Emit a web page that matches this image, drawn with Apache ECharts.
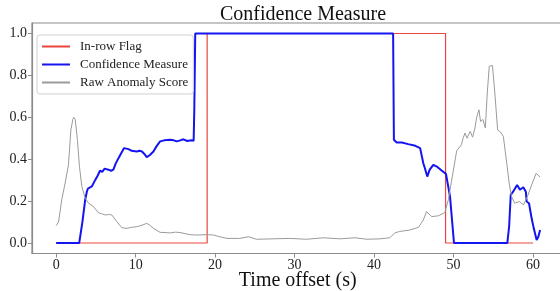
<!DOCTYPE html>
<html>
<head>
<meta charset="utf-8">
<script src="https://cdn.jsdelivr.net/npm/echarts@6/dist/echarts.min.js"></script>
<style>
  html, body { margin: 0; padding: 0; background: #fff; }
  #chart { width: 560px; height: 291px; }
</style>
</head>
<body>
<div id="chart"></div>
<script>
// [time offset (s), value]
const inRowFlag = [[0, 0], [19, 0], [19, 1], [49, 1], [49, 0], [60, 0]];

const confidence = [
    [0, 0], [2.9, 0], [3.3, 0.1], [3.65, 0.206], [3.86, 0.245], [4.0, 0.26], [4.2, 0.255],
    [4.49, 0.27], [4.9, 0.3], [5.2, 0.32], [5.53, 0.346], [5.8, 0.34], [6.1, 0.355],
    [6.58, 0.35], [6.9, 0.345], [7.2, 0.35], [7.5, 0.38], [7.84, 0.405], [8.2, 0.43],
    [8.55, 0.453], [8.8, 0.455], [9.1, 0.448], [9.5, 0.44], [10.15, 0.437], [10.5, 0.44],
    [10.8, 0.437], [11.1, 0.425], [11.4, 0.41], [11.8, 0.42], [12.24, 0.437], [12.6, 0.46],
    [13.08, 0.485], [13.6, 0.49], [14.34, 0.493], [14.8, 0.49], [15.18, 0.485], [15.6, 0.49],
    [16.0, 0.495], [16.5, 0.487], [17.0, 0.49], [17.3, 0.488], [17.38, 0.63], [17.45, 0.63],
    [17.5, 1.0], [42.4, 1.0], [42.5, 0.493], [42.85, 0.48], [43.5, 0.48], [44.3, 0.472],
    [45.2, 0.464], [45.8, 0.453], [46.2, 0.381], [46.4, 0.357], [46.7, 0.317], [47.0, 0.35],
    [47.46, 0.373], [47.9, 0.365], [48.5, 0.346], [49.05, 0.33], [49.56, 0.222], [50.06, 0],
    [56.77, 0], [57.0, 0.08], [57.2, 0.23], [57.5, 0.245], [58.0, 0.277], [58.36, 0.254],
    [58.78, 0.266], [59.1, 0.245], [59.2, 0.198], [59.5, 0.19], [59.83, 0.118], [60.1, 0.07],
    [60.46, 0.014], [60.67, 0.03], [60.9, 0.062]
];

const rawScore = [
    [0, 0.083], [0.3, 0.1], [0.7, 0.206], [1.13, 0.286], [1.55, 0.373], [1.85, 0.54],
    [2.1, 0.59], [2.2, 0.6], [2.4, 0.59], [2.68, 0.49], [2.93, 0.365], [3.23, 0.27],
    [3.65, 0.214], [4.07, 0.19], [4.7, 0.174], [5.3, 0.145], [5.7, 0.14], [6.16, 0.134],
    [6.6, 0.136], [7.0, 0.134], [7.63, 0.102], [8.26, 0.073], [8.9, 0.07], [9.5, 0.075],
    [10.15, 0.078], [10.8, 0.085], [11.4, 0.094], [11.8, 0.085], [12.24, 0.07], [13.08, 0.051],
    [13.7, 0.05], [14.34, 0.048], [15.0, 0.052], [15.6, 0.05], [16.2, 0.045], [16.85, 0.04],
    [17.7, 0.038], [18.95, 0.04], [19.8, 0.038], [20.6, 0.03], [21.5, 0.022], [23.1, 0.022],
    [24.2, 0.03], [25.2, 0.018], [27.3, 0.02], [29.4, 0.022], [31.5, 0.018], [33.6, 0.025],
    [35.7, 0.02], [37.6, 0.025], [39.1, 0.018], [40.75, 0.02], [42.0, 0.025], [42.6, 0.048],
    [43.2, 0.055], [44.5, 0.062], [45.6, 0.075], [46.2, 0.11], [46.6, 0.15], [47.26, 0.126],
    [48.1, 0.13], [48.9, 0.145], [49.35, 0.206], [49.77, 0.3], [50.4, 0.44], [51.0, 0.469],
    [51.2, 0.5], [51.45, 0.525], [51.7, 0.5], [52.1, 0.533], [52.4, 0.505], [52.7, 0.549],
    [52.9, 0.597], [53.2, 0.636], [53.4, 0.58], [53.7, 0.59], [54.0, 0.549], [54.25, 0.716],
    [54.5, 0.844], [54.9, 0.847], [55.2, 0.716], [55.55, 0.54], [55.9, 0.53], [56.27, 0.509],
    [56.7, 0.381], [57.0, 0.286], [57.3, 0.222], [57.7, 0.19], [58.3, 0.198], [58.8, 0.182],
    [59.3, 0.222], [59.83, 0.277], [60.4, 0.333], [60.5, 0.34], [60.9, 0.314]
];

const xTicks = [0, 10, 20, 30, 40, 50, 60];
const yTicks = [0, 0.2, 0.4, 0.6, 0.8, 1.0];

const serif = '"Liberation Serif", "DejaVu Serif", serif';
const spine = '#8c8c8c';

const chart = echarts.init(document.getElementById('chart'));

chart.setOption({
    animation: false,
    title: {
        text: 'Confidence Measure',
        left: 298,
        top: 0,
        textAlign: 'center',
        textStyle: { fontFamily: serif, fontSize: 20, fontWeight: 'normal', color: '#111' }
    },
    legend: {
        orient: 'vertical',
        left: 37,
        top: 35,
        padding: [5, 5, 5, 4],
        itemWidth: 28,
        itemHeight: 14,
        itemGap: 5,
        itemStyle: { opacity: 0 },
        backgroundColor: 'rgba(255,255,255,0.9)',
        borderColor: '#d0d0d0',
        borderWidth: 1,
        borderRadius: 3,
        textStyle: { fontFamily: serif, fontSize: 13, color: '#222', padding: [0, 0, 0, 5] },
        data: ['In-row Flag', 'Confidence Measure', 'Raw Anomaly Score']
    },
    grid: {
        left: 32,
        top: 23,
        width: 531.5,
        bottom: 37.5,
        outerBoundsMode: 'none',
        show: true,
        borderColor: spine,
        borderWidth: 1.2,
        backgroundColor: 'transparent'
    },
    xAxis: {
        type: 'value',
        min: -3.04,
        max: 63.84,
        name: 'Time offset (s)',
        nameLocation: 'middle',
        nameGap: 17,
        nameMoveOverlap: false,
        nameTextStyle: { fontFamily: serif, fontSize: 20, color: '#111' },
        axisLine: { show: true, onZero: false, lineStyle: { color: spine, width: 1.2 } },
        axisTick: { show: true, length: 4, customValues: xTicks, lineStyle: { color: spine } },
        axisLabel: {
            customValues: xTicks,
            margin: 5,
            fontFamily: serif,
            fontSize: 14,
            color: '#222'
        },
        splitLine: { show: false }
    },
    yAxis: {
        type: 'value',
        min: -0.05,
        max: 1.05,
        axisLine: { show: true, onZero: false, lineStyle: { color: spine, width: 1.2 } },
        axisTick: { show: true, length: 4, customValues: yTicks, lineStyle: { color: spine } },
        axisLabel: {
            customValues: yTicks,
            margin: 5,
            fontFamily: serif,
            fontSize: 14,
            color: '#222',
            formatter: v => v.toFixed(1)
        },
        splitLine: { show: false }
    },
    series: [
        {
            name: 'In-row Flag',
            type: 'line',
            data: inRowFlag,
            symbol: 'none',
            color: '#e8463e',
            lineStyle: { width: 1.2, color: '#e8463e' }
        },
        {
            name: 'Confidence Measure',
            type: 'line',
            data: confidence,
            symbol: 'none',
            color: '#1414f0',
            lineStyle: { width: 2, color: '#1414f0' }
        },
        {
            name: 'Raw Anomaly Score',
            type: 'line',
            data: rawScore,
            symbol: 'none',
            color: '#9a9a9a',
            lineStyle: { width: 1, color: '#9a9a9a' }
        }
    ]
});
</script>
</body>
</html>
